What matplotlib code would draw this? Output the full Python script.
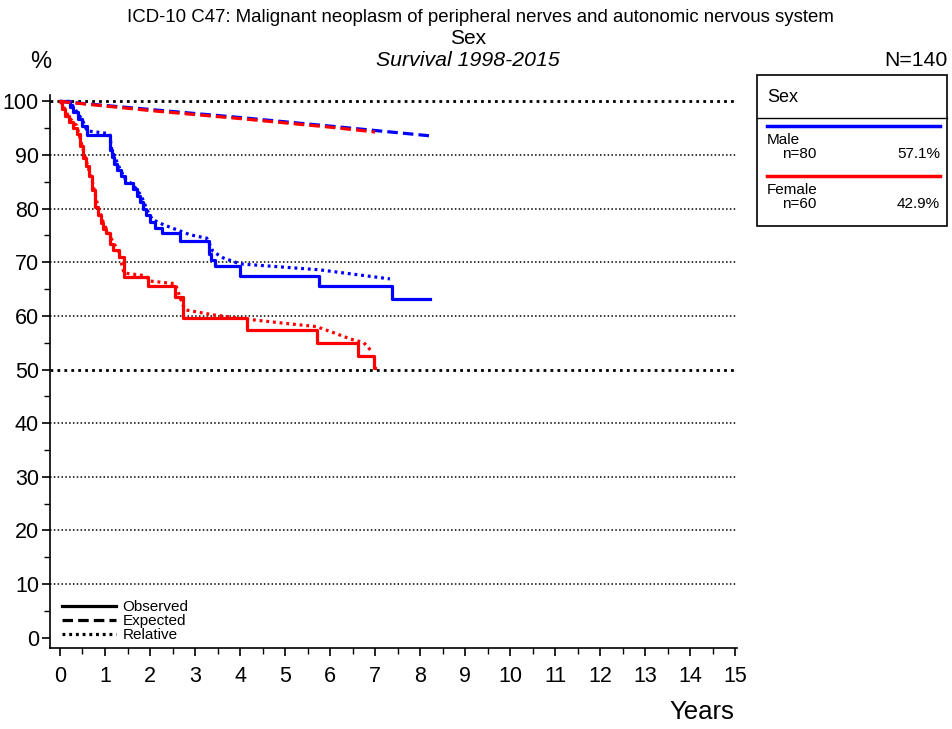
import matplotlib
matplotlib.use("Agg")
import matplotlib.pyplot as plt
from matplotlib.lines import Line2D
from matplotlib.patches import Rectangle
from matplotlib.ticker import MultipleLocator

plt.rcParams['font.family'] = ['Liberation Sans', 'DejaVu Sans']

# Observed survival (Kaplan-Meier steps), years / %
male_obs_t = [0, 0.22, 0.3, 0.4, 0.5, 0.6, 1.12, 1.15, 1.2, 1.27, 1.35, 1.44, 1.62, 1.7,
              1.78, 1.85, 1.92, 2.0, 2.1, 2.26, 2.67, 3.3, 3.36, 3.44, 4.0, 5.76, 7.38, 8.22]
male_obs_v = [100, 99.0, 98.0, 96.8, 95.5, 93.8, 91.0, 89.6, 88.4, 87.2, 86.0, 84.8, 83.6, 82.4,
              81.2, 80.0, 78.8, 77.6, 76.4, 75.4, 73.9, 71.5, 70.4, 69.3, 67.5, 65.5, 63.2, 63.2]
female_obs_t = [0, 0.05, 0.12, 0.2, 0.3, 0.37, 0.45, 0.52, 0.58, 0.64, 0.72, 0.78, 0.84, 0.9,
                0.96, 1.02, 1.1, 1.18, 1.3, 1.42, 1.95, 2.56, 2.73, 4.15, 5.71, 6.62, 6.98, 7.0]
female_obs_v = [100, 98.5, 97.2, 96.2, 95.0, 94.0, 91.6, 89.5, 87.9, 86.0, 83.5, 80.4, 78.8, 77.3,
                76.2, 75.5, 73.5, 72.3, 71.0, 67.3, 65.5, 63.5, 59.7, 57.4, 55.0, 52.5, 50.3, 50.3]

# Expected survival
male_exp_t = [0, 2, 4, 6, 8.2]
male_exp_v = [100, 98.5, 97.0, 95.4, 93.6]
female_exp_t = [0, 2, 4, 6, 7.0]
female_exp_v = [100, 98.3, 96.8, 95.2, 94.3]

# Relative survival
male_rel_t = [0, 0.22, 0.3, 0.5, 0.6, 1.1, 1.15, 1.3, 1.45, 1.62, 1.8, 1.95, 2.05, 2.3,
              2.9, 3.26, 3.4, 3.63, 4.0, 5.76, 7.33]
male_rel_v = [100, 100, 99, 96.5, 94.5, 94.0, 91.0, 88.0, 85.5, 84.5, 82.5, 79.5, 78.0, 77.0,
              75.1, 74.5, 72.0, 70.8, 69.7, 68.6, 66.9]
female_rel_t = [0, 0.05, 0.2, 0.37, 0.45, 0.58, 0.72, 0.84, 0.96, 1.1, 1.3, 1.42, 1.9, 2.0,
                2.56, 2.73, 2.8, 3.4, 4.15, 4.9, 5.7, 6.1, 6.45, 6.75, 6.9]
female_rel_v = [100, 99.5, 97, 95.5, 93, 89, 85, 80.5, 77.5, 75, 72, 68, 67.5, 66.5,
                66.0, 62.0, 61.1, 60.2, 59.4, 58.7, 58.0, 56.8, 55.7, 55.0, 53.6]

groups = ['Male', 'Female']
group_n = [80, 60]
group_pct = ['57.1%', '42.9%']
colors = ['#0000FF', '#FF0000']

fig = plt.figure(figsize=(9.52, 7.29), dpi=100)
ax = fig.add_axes([50 / 952, 81 / 729, 687 / 952, 553 / 729])

# grid lines
for y in range(10, 101, 10):
    lw = 2.0 if y in (50, 100) else 1.1
    ax.axhline(y, color='black', lw=lw, ls=(0, (1, 1.5)), zorder=1)

data = [(male_obs_t, male_obs_v, male_exp_t, male_exp_v, male_rel_t, male_rel_v),
        (female_obs_t, female_obs_v, female_exp_t, female_exp_v, female_rel_t, female_rel_v)]
for (ot, ov, et, ev, rt, rv), c in zip(data, colors):
    ax.plot(ot, ov, drawstyle='steps-post', color=c, lw=2.3, zorder=3)
    ax.plot(et, ev, color=c, lw=2.3, ls=(0, (3.3, 1.6)), zorder=3)
    ax.plot(rt, rv, color=c, lw=2.3, ls=(0, (0.9, 1.2)), zorder=3)

ax.set_xlim(-0.222, 15.04)
ax.set_ylim(-1.94, 101.2)
ax.xaxis.set_major_locator(MultipleLocator(1))
ax.xaxis.set_minor_locator(MultipleLocator(0.5))
ax.yaxis.set_major_locator(MultipleLocator(10))
ax.yaxis.set_minor_locator(MultipleLocator(5))
ax.set_xticks(range(0, 16))
ax.set_yticks(range(0, 101, 10))
ax.spines['top'].set_visible(False)
ax.spines['right'].set_visible(False)
ax.spines['left'].set_linewidth(1.2)
ax.spines['bottom'].set_linewidth(1.2)
ax.tick_params(axis='both', which='major', length=6, width=1.2, labelsize=15.5, pad=7)
ax.tick_params(axis='both', which='minor', length=4, width=1.0)
ax.tick_params(axis='y', pad=2)

handles = [Line2D([], [], color='black', lw=2.3),
           Line2D([], [], color='black', lw=2.3, ls=(0, (3.3, 1.6))),
           Line2D([], [], color='black', lw=2.3, ls=(0, (0.9, 1.2)))]
ax.legend(handles, ['Observed', 'Expected', 'Relative'], loc='lower left',
          bbox_to_anchor=(0.0, -0.012), frameon=False, fontsize=11,
          handlelength=3.5, handletextpad=0.45, labelspacing=0.0, borderaxespad=0.4)

# titles
fig.text(480 / 952, 1 - 18 / 729, 'ICD-10 C47: Malignant neoplasm of peripheral nerves and autonomic nervous system',
         ha='center', va='center', fontsize=13.4)
fig.text(468 / 952, 1 - 38 / 729, 'Sex', ha='center', va='center', fontsize=15)
fig.text(468 / 952, 1 - 60 / 729, 'Survival 1998-2015', ha='center', va='center', fontsize=15.3, style='italic')
fig.text(41 / 952, 1 - 62 / 729, '%', ha='center', va='center', fontsize=17)
fig.text(948 / 952, 1 - 60 / 729, 'N=140', ha='right', va='center', fontsize=15.3)
fig.text(734 / 952, 1 - 712 / 729, 'Years', ha='right', va='center', fontsize=18.5)

# right-hand group legend
def fx(px):
    return px / 952

def fy(py):
    return 1 - py / 729

fig.add_artist(Rectangle((fx(757), fy(226)), fx(947) - fx(757), fy(75) - fy(226),
                         transform=fig.transFigure, fill=False, ec='black', lw=1.2))
fig.add_artist(Line2D([fx(757), fx(947)], [fy(118), fy(118)], transform=fig.transFigure,
                      color='black', lw=1.0))
fig.text(fx(767), fy(97), 'Sex', ha='left', va='center', fontsize=13)
for i, (g, n, p, c) in enumerate(zip(groups, group_n, group_pct, colors)):
    y0 = 126 + i * 50
    fig.add_artist(Line2D([fx(767), fx(940)], [fy(y0), fy(y0)], transform=fig.transFigure,
                          color=c, lw=2.5))
    fig.text(fx(767), fy(y0 + 14), g, ha='left', va='center', fontsize=11)
    fig.text(fx(782), fy(y0 + 28), f'n={n}', ha='left', va='center', fontsize=11)
    fig.text(fx(940), fy(y0 + 28), p, ha='right', va='center', fontsize=11)

fig.savefig('out.png', dpi=100)
